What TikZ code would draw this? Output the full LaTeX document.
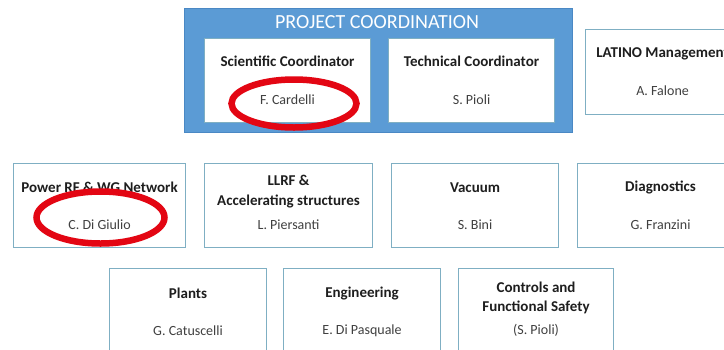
\documentclass[tikz,border=0pt]{standalone}
\usepackage{fontspec}
\setmainfont{Carlito}
\usetikzlibrary{calc}
\definecolor{boxline}{HTML}{7FAFC3}
\definecolor{coordblue}{HTML}{5B9BD5}
\definecolor{coordedge}{HTML}{4A88C4}
\definecolor{titleink}{HTML}{1E1E1E}
\definecolor{nameink}{HTML}{404040}
\definecolor{ringred}{HTML}{E30613}
\begin{document}
\begin{tikzpicture}[x=1pt,y=-1pt,
  unit/.style={draw=boxline, line width=1.1pt, fill=white, minimum width=#1,
    minimum height=84pt, inner sep=0pt, anchor=north west},
  role/.style={font=\fontsize{15}{19.5}\selectfont\bfseries, text=titleink, align=center, inner sep=0pt},
  person/.style={font=\fontsize{14}{16}\selectfont, text=nameink, inner sep=0pt},
  ring/.style={draw=ringred, line width=6.5pt}]
\useasboundingbox (0,0) rectangle (724,349);

% coordination panel
\node[draw=coordedge, line width=1pt, fill=coordblue, anchor=north west,
  minimum width=388pt, minimum height=124pt, inner sep=0pt] (coord) at (184,8) {};
\node[font=\fontsize{20}{22}\selectfont, text=white, inner sep=0pt] (coordtitle) at (377,22) {PROJECT COORDINATION};

\node[unit=166pt] (sci) at (204,38) {};
\node[unit=166pt] (tech) at (388,38) {};
\node[unit=154pt, minimum height=85pt] (lat) at (585,29) {};

% work packages, second row
\node[unit=172pt] (rf) at (13,163) {};
\node[unit=168pt] (llrf) at (204,163) {};
\node[unit=167pt] (vac) at (391,163) {};
\node[unit=166pt] (diag) at (577,163) {};

% work packages, third row
\node[unit=157pt] (plants) at (109,268) {};
\node[unit=157pt] (eng) at (283,268) {};
\node[unit=155pt] (ctrl) at (458,268) {};

% labels
\node[role] (sciR) at ($(sci.center)+(0,-19)$) {Scientific Coordinator};
\node[person] (sciP) at ($(sci.center)+(0,19)$) {F. Cardelli};
\node[role] (techR) at ($(tech.center)+(0,-19)$) {Technical Coordinator};
\node[person] (techP) at ($(tech.center)+(0,19)$) {S. Pioli};
\node[role] (latR) at ($(lat.center)+(0,-18.5)$) {LATINO Management};
\node[person] (latP) at ($(lat.center)+(0,19)$) {A. Falone};

\node[role] (rfR) at ($(rf.center)+(0,-18)$) {Power RF \& WG Network};
\node[person] (rfP) at ($(rf.center)+(0,19)$) {C. Di Giulio};
\node[role] (llrfR) at ($(llrf.center)+(0,-14)$) {LLRF \&\\Accelerating structures};
\node[person] (llrfP) at ($(llrf.center)+(0,19)$) {L. Piersanti};
\node[role] (vacR) at ($(vac.center)+(0,-18)$) {Vacuum};
\node[person] (vacP) at ($(vac.center)+(0,19)$) {S. Bini};
\node[role] (diagR) at ($(diag.center)+(0,-18)$) {Diagnostics};
\node[person] (diagP) at ($(diag.center)+(0,19)$) {G. Franzini};

\node[role] (plantsR) at ($(plants.center)+(0,-17)$) {Plants};
\node[person] (plantsP) at ($(plants.center)+(0,20)$) {G. Catuscelli};
\node[role] (engR) at ($(eng.center)+(0,-17)$) {Engineering};
\node[person] (engP) at ($(eng.center)+(0,20)$) {E. Di Pasquale};
\node[role] (ctrlR) at ($(ctrl.center)+(0,-12.5)$) {Controls and\\Functional Safety};
\node[person] (ctrlP) at ($(ctrl.center)+(0,20)$) {(S. Pioli)};

% highlight rings
\draw[ring] (294,103.5) ellipse (62.5pt and 24pt);
\draw[ring] (100.5,217.5) ellipse (64pt and 26pt);
\end{tikzpicture}
\end{document}
